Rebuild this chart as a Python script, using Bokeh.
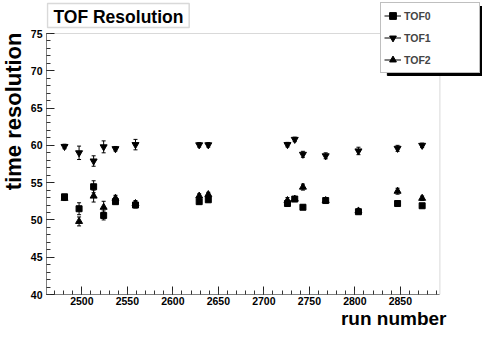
from bokeh.plotting import figure
from bokeh.models import (ColumnDataSource, Range1d, SingleIntervalTicker, Label, Title,
                          Legend, LegendItem, BoxAnnotation)
from bokeh.embed import file_html
from bokeh.resources import INLINE

# ---------------- data ----------------
runs = [2481, 2497, 2513, 2524, 2537, 2559, 2629, 2639, 2726, 2734, 2743, 2768, 2804, 2847, 2874]
tof0 = [53.1, 51.5, 54.45, 50.6, 52.45, 52.0, 52.45, 52.7, 52.2, 52.8, 51.7, 52.6, 51.1, 52.2, 51.9]
tof0_err = [0.3, 0.8, 0.8, 0.6, 0.3, 0.4, 0.3, 0.3, 0.4, 0.3, 0.3, 0.3, 0.3, 0.3, 0.3]
tof1 = [59.85, 59.0, 57.9, 59.8, 59.55, 60.1, 60.07, 60.07, 60.1, 60.8, 58.8, 58.6, 59.25, 59.6, 60.0]
tof1_err = [0.3, 0.9, 0.7, 0.8, 0.3, 0.7, 0.3, 0.3, 0.3, 0.3, 0.4, 0.4, 0.5, 0.4, 0.3]
tof2 = [52.9, 49.8, 53.2, 51.7, 52.9, 52.2, 53.2, 53.4, 52.6, 52.8, 54.4, 52.6, 51.2, 53.85, 52.9]
tof2_err = [0.3, 0.6, 0.8, 0.8, 0.4, 0.4, 0.3, 0.3, 0.4, 0.3, 0.4, 0.3, 0.3, 0.4, 0.3]
series_names = ["TOF0", "TOF1", "TOF2"]
title_text = "TOF Resolution"
x_title = "run number"
y_title = "time resolution"

# ---------------- layout ----------------
W, H = 482, 331
FL, FB = 42, 37          # left / bottom borders (frame extends to top and right edges)
BOX_R, BOX_T = 439, 33   # visible plot-box right and top, in canvas pixels
XMIN, XMAX = 2461.2, 2893.5
YMIN, YMAX = 40, 75
FONT = "Liberation Sans"

box_w = BOX_R - FL
box_h = (H - FB) - BOX_T
XEND = XMIN + (W - FL) * (XMAX - XMIN) / box_w
YTOP = YMAX + BOX_T * (YMAX - YMIN) / box_h


def dx(px):
    return XMIN + (px - FL) * (XMAX - XMIN) / box_w


def dy(py):
    return YMAX - (py - BOX_T) * (YMAX - YMIN) / box_h


p = figure(width=W, height=H, output_backend="svg", toolbar_location=None,
           x_range=Range1d(XMIN, XEND), y_range=Range1d(YMIN, YTOP),
           min_border_left=FL, min_border_right=0, min_border_top=0, min_border_bottom=FB,
           background_fill_color="white", border_fill_color="white")
p.xgrid.visible = False
p.ygrid.visible = False
p.outline_line_color = None

p.xaxis.ticker = SingleIntervalTicker(interval=50, num_minor_ticks=5)
p.yaxis.ticker = SingleIntervalTicker(interval=5, num_minor_ticks=5)
p.xaxis.bounds = (XMIN, XMAX)
p.yaxis.bounds = (YMIN, YMAX)
for ax in (p.xaxis[0], p.yaxis[0]):
    ax.axis_line_color = "#808080"
    ax.major_tick_line_color = "#222222"
    ax.minor_tick_line_color = "#333333"
    ax.major_tick_in = 8
    ax.major_tick_out = 0
    ax.minor_tick_in = 4
    ax.minor_tick_out = 0
    ax.major_label_text_font = FONT
    ax.major_label_text_font_style = "bold"
    ax.major_label_text_font_size = "10.5px"
    ax.major_label_text_color = "black"
p.yaxis.major_label_standoff = 4
p.xaxis.major_label_standoff = 2

# visible plot box (top and right edges)
p.add_layout(BoxAnnotation(left=XMIN, right=XMAX, bottom=YMIN, top=YMAX,
                           fill_alpha=0, line_color="#808080", line_width=1, level="underlay"))

markers = ["square", "inverted_triangle", "triangle"]
sizes = [6, 7, 7]
values = [tof0, tof1, tof2]
errors = [tof0_err, tof1_err, tof2_err]
items = []
for name, mk, sz, vals, errs in zip(series_names, markers, sizes, values, errors):
    lo = [v - e for v, e in zip(vals, errs)]
    hi = [v + e for v, e in zip(vals, errs)]
    src = ColumnDataSource(dict(x=runs, y=vals, lo=lo, hi=hi))
    seg = p.segment(x0="x", y0="lo", x1="x", y1="hi", source=src, line_color="black", line_width=1)
    p.scatter(x="x", y="lo", source=src, marker="dash", size=4, line_color="black", line_width=1)
    p.scatter(x="x", y="hi", source=src, marker="dash", size=4, line_color="black", line_width=1)
    sc = p.scatter(x="x", y="y", source=src, marker=mk, size=sz, fill_color="black", line_color="black")
    items.append(LegendItem(label=name, renderers=[seg, sc]))

# legend with shadow (anchored to the top-right corner of the frame)
LEG_M, LEG_W, LEG_H, SH = 2, 98, 69, 4
leg_l = W - LEG_M - LEG_W
p.add_layout(BoxAnnotation(left=dx(leg_l + SH), right=dx(W),
                           top=dy(LEG_M + SH), bottom=dy(LEG_M + LEG_H + SH),
                           fill_color="black", fill_alpha=1.0, line_color="black", line_alpha=1.0))
legend = Legend(items=items, location="top_right",
                margin=LEG_M, padding=3, spacing=3, glyph_width=17, glyph_height=19,
                label_height=19, label_width=72, label_standoff=3,
                label_text_font=FONT, label_text_font_style="bold", label_text_font_size="10.5px",
                border_line_color="#808080", border_line_width=1,
                background_fill_color="white", background_fill_alpha=1.0)
p.add_layout(legend, "center")

# chart title box
TB_L, TB_R, TB_T, TB_B = 43, 186, 3, 27
p.add_layout(BoxAnnotation(left=dx(TB_L), right=dx(TB_R), top=dy(TB_T), bottom=dy(TB_B),
                           fill_color="white", fill_alpha=1.0, line_color="#808080", line_width=1.5))
p.add_layout(Label(x=dx(TB_L + 6), y=dy((TB_T + TB_B) / 2 + 1), text=title_text,
                   text_align="left", text_baseline="middle",
                   text_font=FONT, text_font_style="bold", text_font_size="17.5px", text_color="black"))

# axis titles (side panels)
p.add_layout(Title(text=y_title, align="right", vertical_align="top", offset=32, standoff=0,
                   text_font=FONT, text_font_style="bold", text_font_size="22px",
                   text_color="black"), "left")
p.add_layout(Title(text=x_title, align="right", vertical_align="top", offset=36, standoff=0,
                   text_font=FONT, text_font_style="bold", text_font_size="19px",
                   text_color="black"), "below")

open("out.html", "w").write(file_html(p, INLINE))
